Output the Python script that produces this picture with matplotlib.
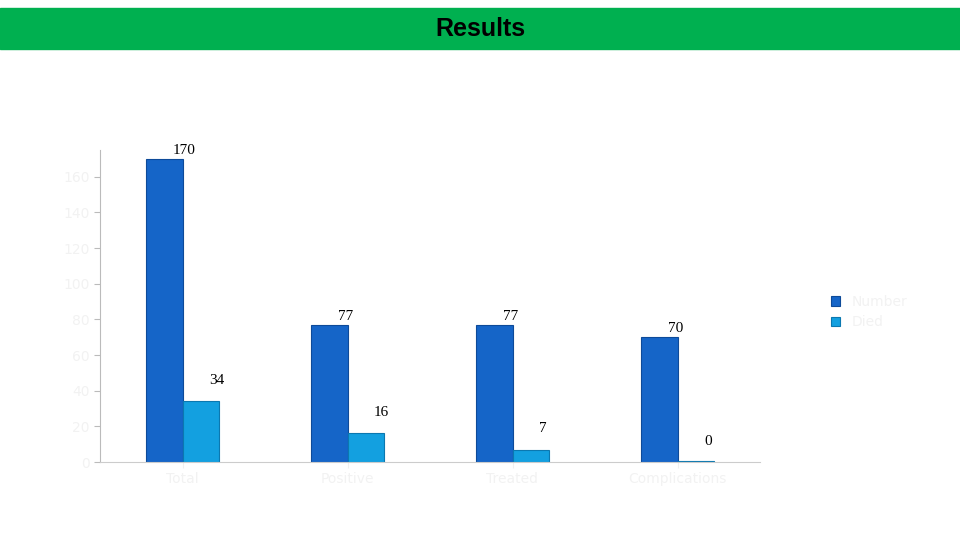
import matplotlib
matplotlib.use("Agg")
import matplotlib.pyplot as plt
import numpy as np

categories = ["Total", "Positive", "Treated", "Complications"]
series1_name = "Number"
series2_name = "Died"
series1 = [170, 77, 77, 70]
series2 = [34, 16, 7, 0]

fig = plt.figure(figsize=(9.6, 5.4), dpi=100)
fig.patches.append(plt.Rectangle((0, 540-49), 960, 41, transform=None, color="#00b050", zorder=0))
fig.text(0.5, 1-29/540, "Results", ha="center", va="center", fontsize=18, fontweight="bold", family="Liberation Sans")

ax = fig.add_axes([100/960, 1-462/540, 660/960, 312/540])
x = np.arange(len(categories))
w = 0.22
b1 = ax.bar(x - w/2, series1, w, color="#1565c8", edgecolor="#0d4a99", linewidth=0.8, label=series1_name)
b2 = ax.bar(x + w/2, [max(v, 0.8) for v in series2], w, color="#13a0e0", edgecolor="#0b78b0", linewidth=0.8, label=series2_name)
for xi, v in zip(x, series1):
    ax.text(xi - w/2 + 0.05, v + 1, str(v), fontsize=11, family="Liberation Serif", va="bottom")
for xi, v in zip(x, series2):
    ax.text(xi + w/2 + 0.05, v + 8, str(v), fontsize=11, family="Liberation Serif", va="bottom")
ax.set_xlim(-0.5, 3.5)
ax.set_ylim(0, 175)
ax.set_yticks(range(0, 180, 20))
ax.tick_params(colors="#f0f0f0", labelcolor="#f4f4f4", length=4)
ax.tick_params(axis="y", colors="#bbbbbb", labelcolor="#f2f2f2")
ax.set_xticks(x)
ax.set_xticklabels(categories, color="#f2f2f2")
for s in ["top", "right"]:
    ax.spines[s].set_visible(False)
ax.spines["left"].set_color("#bbbbbb")
ax.spines["bottom"].set_color("#cccccc")
leg = fig.legend(loc="center left", bbox_to_anchor=(818/960, 1-312/540), frameon=False, handlelength=0.7, handleheight=0.7, fontsize=10)
for t in leg.get_texts():
    t.set_color("#f2f2f2")
fig.savefig("out.png", dpi=100)
